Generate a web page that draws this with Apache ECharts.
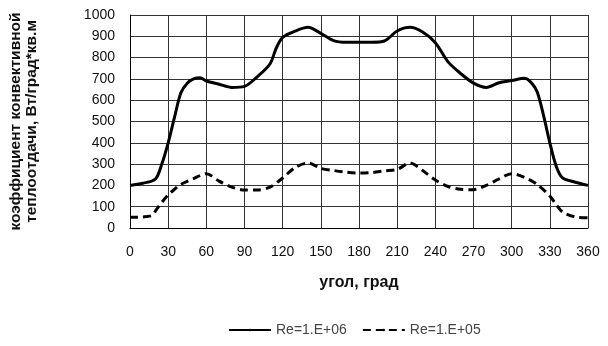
<!DOCTYPE html>
<html>
<head>
<meta charset="utf-8">
<script src="https://cdn.jsdelivr.net/npm/echarts@6/dist/echarts.min.js"></script>
<style>
  html, body { margin: 0; padding: 0; background: #fff; }
  #chart { width: 608px; height: 346px; }
</style>
</head>
<body>
<div id="chart"></div>
<script>
  // Re=1.E+06
  var anglesHigh = [0, 10, 20, 25, 30, 35, 40, 45, 50, 55, 60, 70, 80, 90, 100, 110, 115, 120, 130, 140, 150, 160, 170, 180,
    190, 200, 210, 220, 230, 240, 250, 260, 270, 280, 290, 300, 310, 315, 320, 325, 330, 335, 340, 350, 360];
  var valuesHigh = [200, 210, 230, 300, 400, 520, 635, 680, 700, 705, 690, 675, 660, 665, 710, 770, 845, 895, 925, 942, 914, 880, 872, 872,
    872, 878, 925, 942, 920, 870, 780, 725, 680, 660, 682, 692, 703, 685, 640, 530, 400, 290, 235, 215, 200];

  // Re=1.E+05
  var anglesLow = [0, 10, 17, 20, 25, 30, 35, 40, 50, 60, 70, 80, 90, 100, 110, 120, 130, 140, 150, 160, 170, 180,
    190, 200, 210, 220, 230, 240, 250, 260, 270, 280, 290, 300, 310, 320, 330, 335, 340, 350, 360];
  var valuesLow = [50, 52, 58, 80, 120, 155, 182, 205, 232, 255, 220, 192, 178, 178, 192, 235, 285, 305, 280, 270, 262, 258,
    260, 268, 275, 305, 270, 225, 195, 182, 180, 200, 230, 255, 238, 205, 150, 110, 75, 52, 48];

  var seriesNames = ['Re=1.E+06', 'Re=1.E+05'];

  function pairs(xs, ys) {
    return xs.map(function (x, i) { return [x, ys[i]]; });
  }

  var chart = echarts.init(document.getElementById('chart'));
  chart.setOption({
    animation: false,
    textStyle: { fontFamily: 'Liberation Sans' },
    grid: { left: 128, right: 20, top: 15, bottom: 118 },
    legend: {
      data: seriesNames,
      top: 323,
      left: 228,
      padding: 0,
      itemWidth: 42,
      itemHeight: 3,
      itemGap: 15,
      textStyle: { fontSize: 14, color: '#444' }
    },
    xAxis: {
      type: 'value',
      min: 0,
      max: 360,
      interval: 30,
      name: 'угол, град',
      nameLocation: 'middle',
      nameGap: 47,
      nameTextStyle: { fontSize: 16, fontWeight: 'bold', color: '#111' },
      axisLine: { lineStyle: { color: '#000', width: 1 } },
      axisTick: { show: false },
      axisLabel: { fontSize: 14, color: '#111', margin: 17 },
      splitLine: { show: true, lineStyle: { color: '#333', width: 1 } }
    },
    yAxis: {
      type: 'value',
      min: 0,
      max: 1000,
      interval: 100,
      name: 'коэффициент конвективной\nтеплоотдачи, Вт/град*кв.м',
      nameLocation: 'middle',
      nameGap: 90,
      nameTextStyle: { fontSize: 15.5, fontWeight: 'bold', color: '#111', lineHeight: 16 },
      axisLine: { show: true, lineStyle: { color: '#000', width: 1 } },
      axisTick: { show: false },
      axisLabel: { fontSize: 14, color: '#111', margin: 15, formatter: function (v) { return String(v); } },
      splitLine: { show: true, lineStyle: { color: '#333', width: 1 } }
    },
    series: [
      {
        name: seriesNames[0],
        type: 'line',
        data: pairs(anglesHigh, valuesHigh),
        smooth: 0.3,
        symbol: 'none',
        lineStyle: { color: '#000', width: 3 },
        itemStyle: { color: '#000' }
      },
      {
        name: seriesNames[1],
        type: 'line',
        data: pairs(anglesLow, valuesLow),
        smooth: 0.3,
        symbol: 'none',
        lineStyle: { color: '#000', width: 3, type: [8, 5] },
        itemStyle: { color: '#000' }
      }
    ]
  });
</script>
</body>
</html>
